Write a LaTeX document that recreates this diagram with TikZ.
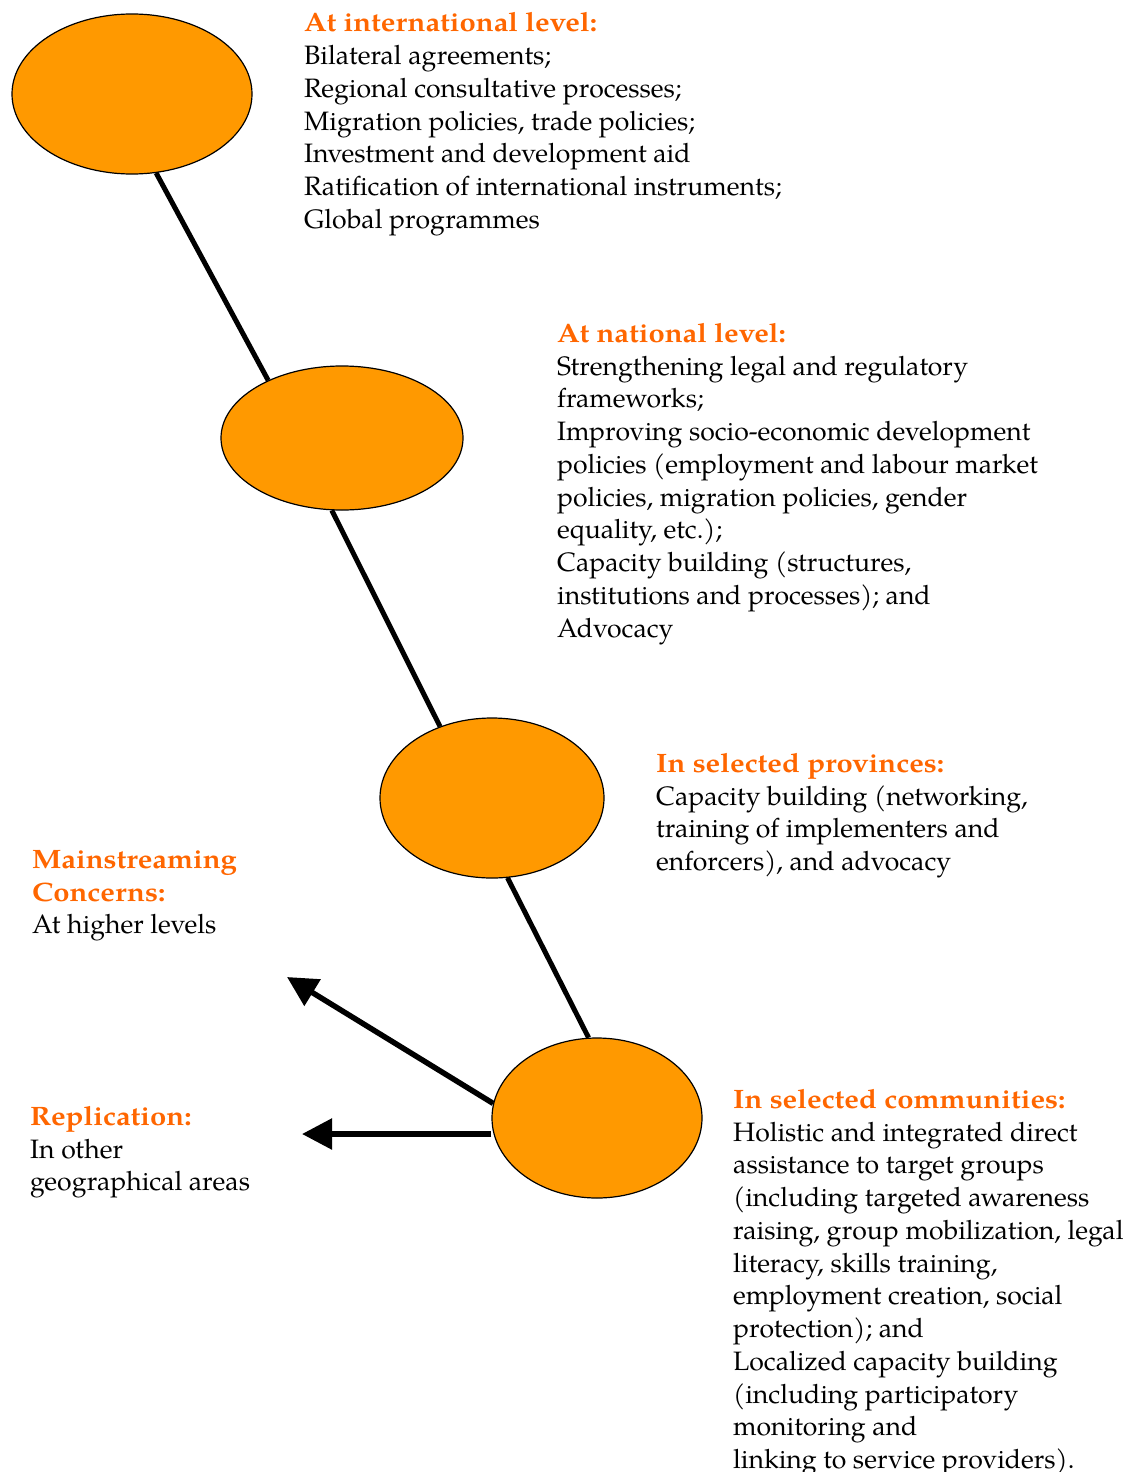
\documentclass[tikz,border=0pt]{standalone}
\usepackage{fontspec}
\setmainfont{TeX Gyre Pagella}[BoldFeatures={FakeStretch=1.1}]
\usetikzlibrary{shapes.geometric,arrows.meta}
\definecolor{hdr}{RGB}{255,102,0}
\definecolor{ell}{RGB}{255,153,0}
\tikzset{
  lvl/.style={ellipse,draw=black,line width=1.2pt,fill=ell,inner sep=0pt},
  con/.style={line width=5pt},
  arr/.style={line width=5.5pt,-{Triangle[length=30pt,width=30pt]}},
  txt/.style={anchor=north west,inner sep=0pt,align=left,font=\fontsize{26.6pt}{32.75pt}\selectfont},
}
\newcommand{\hd}[1]{\textcolor{hdr}{\textbf{#1}}}
\begin{document}
\begin{tikzpicture}[x=1pt,y=-1pt]
\useasboundingbox (0,0) rectangle (1126,1472);
\node[lvl,minimum width=240pt,minimum height=160pt] (e1) at (132,94) {};
\node[lvl,minimum width=242pt,minimum height=144pt] (e2) at (342,438) {};
\node[lvl,minimum width=224pt,minimum height=160pt] (e3) at (492,798) {};
\node[lvl,minimum width=210pt,minimum height=160pt] (e4) at (597,1118) {};
\draw[con] (e1.-73) -- (e2.142);
\draw[con] (e2.-98) -- (e3.126);
\draw[con] (e3.-79) -- (e4.96);
\coordinate (t1) at (287,977);
\coordinate (t2) at (302,1134);
\draw[arr] (e4.172) -- (t1);
\draw[arr] (t2 -| e4.west) -- (t2);
\node[txt] (a) at (304,12.5) {\hd{At international level:}\\Bilateral agreements;\\Regional consultative processes;\\Migration policies, trade policies;\\Investment and development aid\\Ratification of international instruments;\\Global programmes};
\node[txt] (b) at (557,323) {\hd{At national level:}\\Strengthening legal and regulatory\\frameworks;\\Improving socio-economic development\\policies (employment and labour market\\policies, migration policies, gender\\equality, etc.);\\Capacity building (structures,\\institutions and processes); and\\Advocacy};
\node[txt] (c) at (656,753) {\hd{In selected provinces:}\\Capacity building (networking,\\training of implementers and\\enforcers), and advocacy};
\node[txt] (d) at (32,850) {\hd{Mainstreaming}\\\hd{Concerns:}\\At higher levels};
\node[txt] (f) at (30,1106) {\hd{Replication:}\\In other\\geographical areas};
\node[txt] (g) at (733,1089) {\hd{In selected communities:}\\Holistic and integrated direct\\assistance to target groups\\(including targeted awareness\\raising, group mobilization, legal\\literacy, skills training,\\employment creation, social\\protection); and\\Localized capacity building\\(including participatory\\monitoring and\\linking to service providers).};
\end{tikzpicture}
\end{document}
